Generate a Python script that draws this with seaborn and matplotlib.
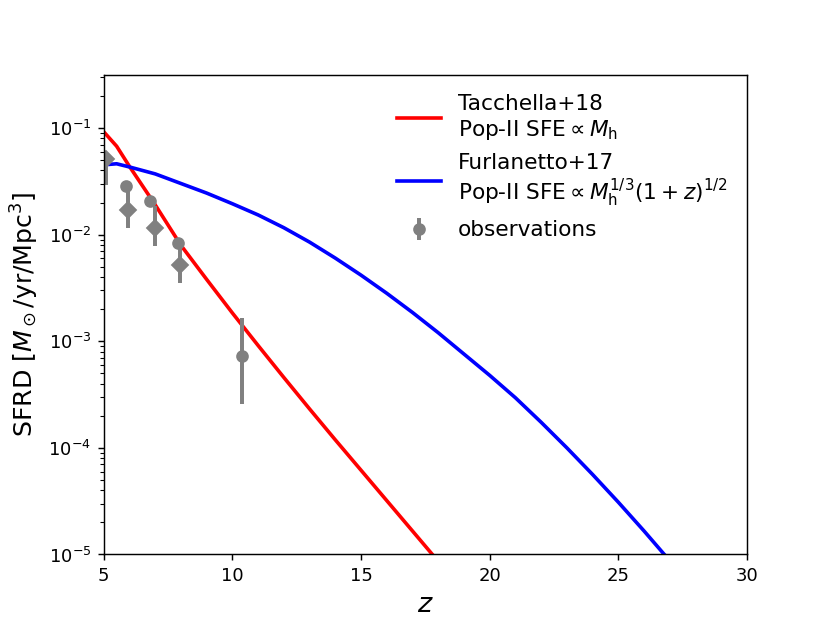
import matplotlib
matplotlib.use('Agg')
import matplotlib.pyplot as plt
import numpy as np
import pandas as pd
import seaborn as sns

# model curves (log10 SFRD)
z_tac = [5, 5.5, 6, 7, 8, 9, 10, 11, 12, 13, 14, 15, 16, 17, 18]
logsfrd_tac = [-1.035, -1.17, -1.36, -1.72, -2.10, -2.42, -2.735, -3.04, -3.34, -3.635, -3.925, -4.21, -4.495, -4.78, -5.065]

z_fur = [5, 5.5, 6, 7, 8, 9, 10, 11, 12, 13, 14, 15, 16, 17, 18, 19, 20, 21, 22, 23, 24, 25, 26, 27]
logsfrd_fur = [-1.345, -1.335, -1.365, -1.43, -1.52, -1.61, -1.71, -1.815, -1.935, -2.07, -2.22, -2.38, -2.55, -2.73,
               -2.92, -3.12, -3.32, -3.53, -3.76, -4.00, -4.25, -4.51, -4.78, -5.06]

# observations: circles and diamonds
z_circ = [5.88, 6.79, 7.90, 10.36]
sfrd_circ = [0.0285, 0.0206, 0.00834, 0.00072]
err_circ_lo = [0.003, 0.002, 0.0008, 0.00046]
err_circ_hi = [0.003, 0.002, 0.0008, 0.00094]

z_diam = [5.08, 5.95, 6.99, 7.98]
sfrd_diam = [0.051, 0.017, 0.0115, 0.0052]
err_diam_lo = [0.022, 0.0055, 0.0036, 0.0017]
err_diam_hi = [0.008, 0.009, 0.007, 0.0026]

df_tac = pd.DataFrame({'z': z_tac, 'sfrd': 10 ** np.array(logsfrd_tac)})
df_fur = pd.DataFrame({'z': z_fur, 'sfrd': 10 ** np.array(logsfrd_fur)})

fig, ax = plt.subplots(figsize=(830 / 130, 623 / 130), dpi=130)

sns.lineplot(data=df_tac, x='z', y='sfrd', color='red', lw=2, ax=ax,
             label='Tacchella+18\nPop-II SFE$\\propto M_{\\rm h}$')
sns.lineplot(data=df_fur, x='z', y='sfrd', color='blue', lw=2, ax=ax,
             label='Furlanetto+17\nPop-II SFE$\\propto M_{\\rm h}^{1/3}(1+z)^{1/2}$')

ax.errorbar(z_circ, sfrd_circ, yerr=[err_circ_lo, err_circ_hi], fmt='o', color='gray',
            ms=6, elinewidth=2.2, capsize=0, label='observations')
ax.errorbar(z_diam, sfrd_diam, yerr=[err_diam_lo, err_diam_hi], fmt='D', color='gray',
            ms=6, elinewidth=2.2, capsize=0)

ax.set_yscale('log')
ax.set_xlim(5, 30)
ax.set_ylim(1e-5, 10 ** -0.5)
ax.set_xlabel('$z$', fontsize=15)
ax.set_ylabel('SFRD [$M_\\odot$/yr/Mpc$^3$]', fontsize=14)

ax.legend(loc='upper right', frameon=False, fontsize=12)

fig.savefig('out.png', dpi=130)
